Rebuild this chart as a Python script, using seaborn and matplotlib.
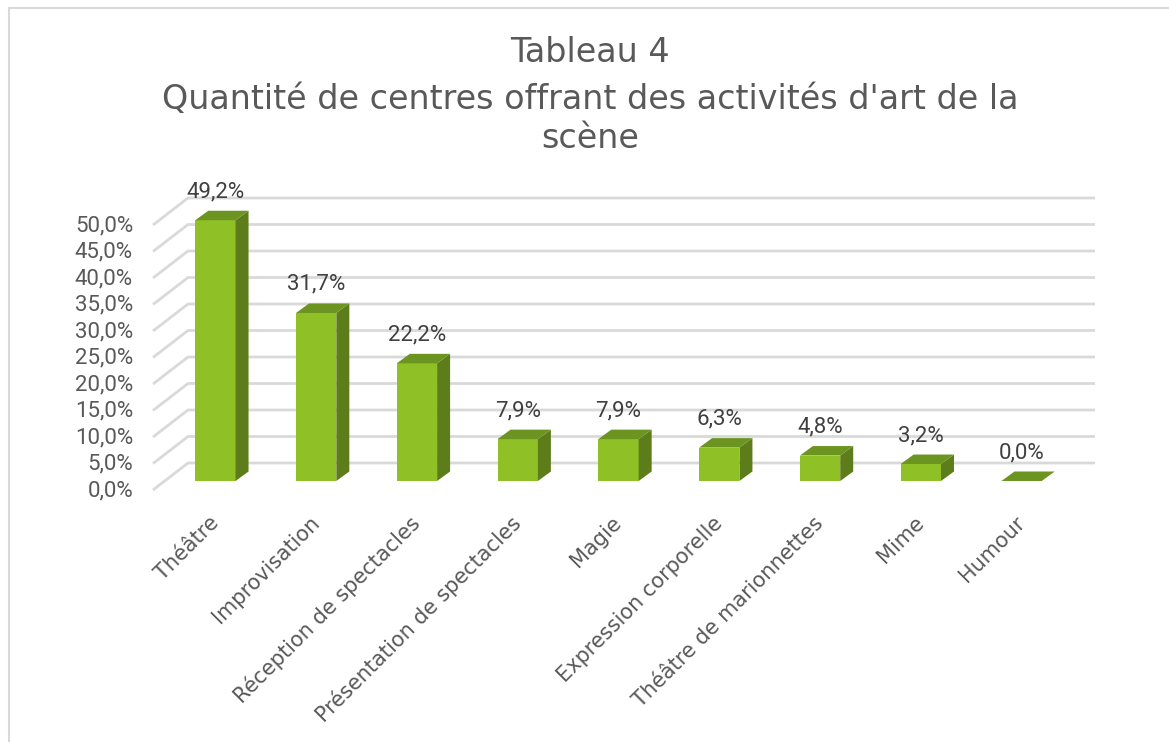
import matplotlib
matplotlib.use("Agg")
import matplotlib.pyplot as plt
import seaborn as sns
from matplotlib import font_manager
from matplotlib.patches import Polygon
from matplotlib.lines import Line2D
from matplotlib.transforms import ScaledTranslation

# ---------------- data ----------------
categories = ["Théâtre", "Improvisation", "Réception de spectacles",
              "Présentation de spectacles", "Magie", "Expression corporelle",
              "Théâtre de marionnettes", "Mime", "Humour"]
values = [49.2, 31.7, 22.2, 7.9, 7.9, 6.3, 4.8, 3.2, 0.0]
y_ticks = [0, 5, 10, 15, 20, 25, 30, 35, 40, 45, 50]
y_tick_labels = [f"{t:.1f}".replace(".", ",") + "%" for t in y_ticks]
value_labels = [f"{v:.1f}".replace(".", ",") + "%" for v in values]
title_lines = ["Tableau 4",
               "Quantité de centres offrant des activités d'art de la",
               "scène"]

# ---------------- style ----------------
FRONT = "#8FC127"
SIDE = "#5C7D19"
TOP = "#6C9420"
GRID = "#D9D9D9"
TXT = "#595959"
DLBL = "#404040"

sns.set_theme(style="white")
plt.rcParams["font.family"] = ["DejaVu Sans"]
names = {f.name for f in font_manager.fontManager.ttflist}
num_font = ["Roboto", "DejaVu Sans"] if "Roboto" in names else ["DejaVu Sans"]
num_size = 16 if "Roboto" in names else 12.5

W, H = 1169, 742
fig = plt.figure(figsize=(W / 100, H / 100), dpi=100)
fig.patch.set_facecolor("white")
ax = fig.add_axes([165 / W, (H - 481) / H, 907 / W, 265 / H])

sns.barplot(x=categories, y=values, color=FRONT, width=0.4, saturation=1,
            ax=ax, zorder=3, linewidth=0)
ax.set_xlim(-0.5, len(categories) - 0.5)
ax.set_ylim(0, 50)
ax.set_xlabel("")
ax.set_ylabel("")
for s in ax.spines.values():
    s.set_visible(False)

# pixel -> data offsets
T = ax.transData
p0 = T.transform((0, 0))
p1 = T.transform((1, 1))
sx, sy = p1[0] - p0[0], p1[1] - p0[1]


def off(dx_px, dy_px):
    return dx_px / sx, dy_px / sy


# gridlines: floor diagonal + back wall
bx, by = off(23, 18)
fx, fy = off(-12, -9)
x_lo, x_hi = ax.get_xlim()
for t in y_ticks:
    ax.plot([x_lo + fx, x_lo + bx, x_hi + bx], [t + fy, t + by, t + by],
            color=GRID, lw=2, clip_on=False, zorder=0, solid_capstyle="butt")

# 3D faces of bars
dx, dy = off(13, 9.5)
bars = list(ax.patches)
for p in bars:
    x0 = p.get_x()
    w = p.get_width()
    h = p.get_height()
    x1 = x0 + w
    ax.add_patch(Polygon([(x1, 0), (x1, h), (x1 + dx, h + dy), (x1 + dx, dy)],
                         closed=True, fc=SIDE, ec="none", zorder=3, clip_on=False))
    ax.add_patch(Polygon([(x0, h), (x1, h), (x1 + dx, h + dy), (x0 + dx, h + dy)],
                         closed=True, fc=TOP, ec="none", zorder=3, clip_on=False))

# data labels
ax.bar_label(ax.containers[0], labels=value_labels, padding=13, color=DLBL,
             fontsize=num_size, family=num_font)

# y ticks
ax.tick_params(axis="y", length=0, pad=23)
ax.set_yticks(y_ticks)
ax.set_yticklabels(y_tick_labels, fontsize=num_size, color=TXT, family=num_font)
for lab in ax.get_yticklabels():
    lab.set_transform(lab.get_transform() + ScaledTranslation(0, -7 / 100, fig.dpi_scale_trans))

# x ticks
ax.tick_params(axis="x", length=0, pad=28)
ax.set_xticks(range(len(categories)))
ax.set_xticklabels(categories, rotation=45, ha="right", va="center",
                   rotation_mode="anchor", fontsize=15, color=TXT)

# title
fig.text(590 / W, 1 - 62 / H, title_lines[0], ha="center", va="baseline", fontsize=24, color=TXT)
fig.text(590 / W, 1 - 109 / H, title_lines[1], ha="center", va="baseline", fontsize=24, color=TXT)
fig.text(590 / W, 1 - 148 / H, title_lines[2], ha="center", va="baseline", fontsize=24, color=TXT)

# chart frame (left & top border)
fig.add_artist(Line2D([9 / W, 9 / W], [0, 1 - 8 / H], transform=fig.transFigure, color=GRID, lw=1.5))
fig.add_artist(Line2D([9 / W, 1], [1 - 8 / H, 1 - 8 / H], transform=fig.transFigure, color=GRID, lw=1.5))

fig.savefig("out.png", dpi=100)
